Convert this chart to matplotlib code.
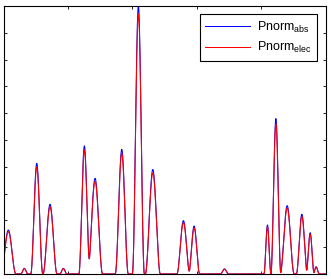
import numpy as np
import matplotlib
matplotlib.use("Agg")
from matplotlib import pyplot as plt

# peak positions / heights / base widths
centers = [0.075, 0.323, 0.516, 0.722, 0.929, 1.255, 1.421, 1.835, 2.093, 2.317,
           2.792, 2.958, 3.429, 4.096, 4.227, 4.402, 4.630, 4.759, 4.852]
widths = [0.233, 0.109, 0.186, 0.217, 0.109, 0.171, 0.233, 0.202, 0.186, 0.233,
          0.202, 0.171, 0.124, 0.109, 0.155, 0.217, 0.171, 0.124, 0.093]
heights_abs = [0.164, 0.021, 0.413, 0.260, 0.021, 0.478, 0.357, 0.465, 1.000, 0.390,
               0.199, 0.179, 0.019, 0.183, 0.580, 0.255, 0.223, 0.154, 0.027]
heights_elec = [0.158, 0.020, 0.398, 0.250, 0.020, 0.462, 0.345, 0.450, 0.970, 0.377,
                0.192, 0.172, 0.018, 0.176, 0.560, 0.246, 0.215, 0.148, 0.026]

plt.rcParams['font.family'] = ['Liberation Sans', 'DejaVu Sans']
plt.rcParams['mathtext.default'] = 'regular'


def profile(x, heights):
    y = np.zeros_like(x)
    for c, w, h in zip(centers, widths, heights):
        d = np.abs(x - c)
        y += np.where(d < w / 2, h * np.cos(np.pi * d / w) ** 2, 0.0)
    return y


x = np.linspace(0, 5, 2001)

fig = plt.figure(figsize=(3.31, 2.79), dpi=100)
ax = fig.add_axes([3.5 / 331, 1 - 274 / 279, 322.2 / 331, 268 / 279])
ax.plot(x, profile(x, heights_abs), color="b", lw=0.75, label="Pnorm$_{abs}$")
ax.plot(x, profile(x, heights_elec), color="r", lw=0.75, label="Pnorm$_{elec}$")

ax.set_xlim(0, 5)
ax.set_ylim(0, 1)
ax.set_xticks([1, 2, 3, 4])
ax.set_yticks(np.arange(0.1, 1.0, 0.1))
ax.tick_params(direction="in", length=2.5, width=0.6, top=True, right=True,
               labelbottom=False, labelleft=False)
for s in ax.spines.values():
    s.set_linewidth(0.8)

leg = ax.legend(loc="upper right", bbox_to_anchor=(0.973, 0.970), fontsize=9,
                handlelength=3.6, handletextpad=0.5, labelspacing=0.45,
                borderpad=0.45, borderaxespad=0.0,
                fancybox=False, framealpha=1, edgecolor="k")
leg.get_frame().set_linewidth(0.8)

fig.savefig("out.png", dpi=100)
